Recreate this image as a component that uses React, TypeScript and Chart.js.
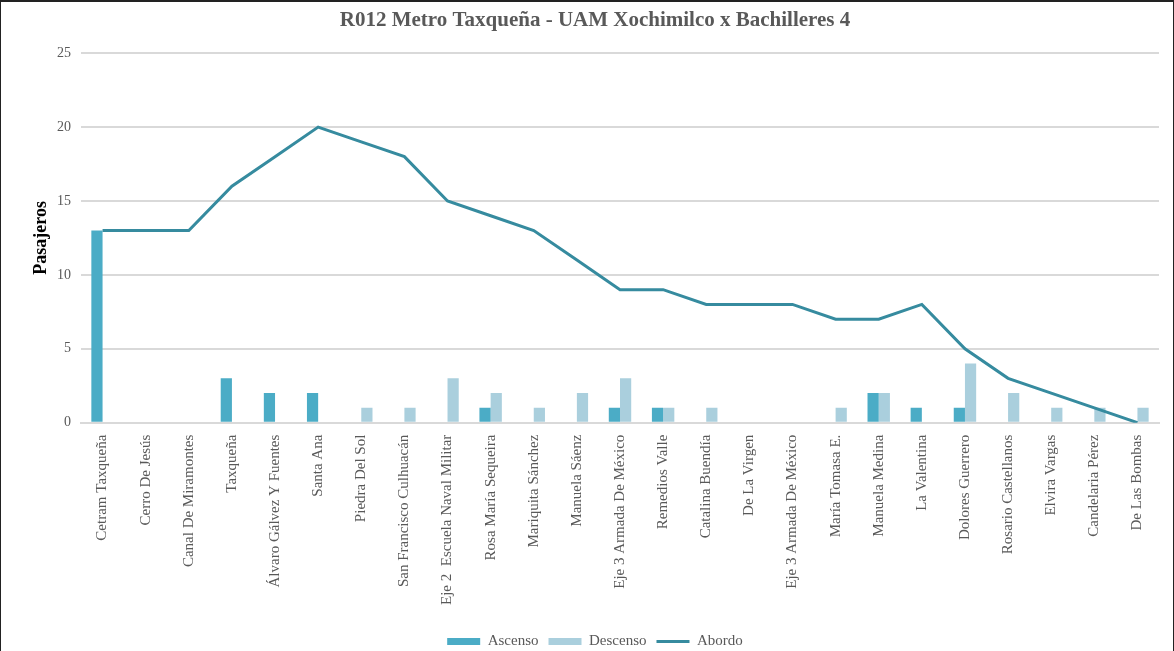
import React, { useEffect, useRef } from "react";
import { Chart, registerables } from "chart.js";

Chart.register(...registerables);

const TITLE = "R012 Metro Taxqueña - UAM Xochimilco x Bachilleres 4";
const Y_LABEL = "Pasajeros";

const stops: string[] = [
  "Cetram Taxqueña",
  "Cerro De Jesús",
  "Canal De Miramontes",
  "Taxqueña",
  "Álvaro Gálvez Y Fuentes",
  "Santa Ana",
  "Piedra Del Sol",
  "San Francisco Culhuacán",
  "Eje 2  Escuela Naval Militar",
  "Rosa María Sequeira",
  "Mariquita Sánchez",
  "Manuela Sáenz",
  "Eje 3 Armada De México",
  "Remedios Valle",
  "Catalina Buendía",
  "De La Virgen",
  "Eje 3 Armada De México",
  "María Tomasa E.",
  "Manuela Medina",
  "La Valentina",
  "Dolores Guerrero",
  "Rosario Castellanos",
  "Elvira Vargas",
  "Candelaria Pérez",
  "De Las Bombas",
];

const ascenso: number[] = [13, 0, 0, 3, 2, 2, 0, 0, 0, 1, 0, 0, 1, 1, 0, 0, 0, 0, 2, 1, 1, 0, 0, 0, 0];
const descenso: number[] = [0, 0, 0, 0, 0, 0, 1, 1, 3, 2, 1, 2, 3, 1, 1, 0, 0, 1, 2, 0, 4, 2, 1, 1, 1];
const abordo: number[] = [13, 13, 13, 16, 18, 20, 19, 18, 15, 14, 13, 11, 9, 9, 8, 8, 8, 7, 7, 8, 5, 3, 2, 1, 0];

const yTicks: number[] = [0, 5, 10, 15, 20, 25];

const COLOR_ASC = "#4bacc6";
const COLOR_DESC = "#aacfdd";
const COLOR_LINE = "#368b9f";
const FONT = "'Liberation Serif', 'Times New Roman', serif";
const TEXT_GRAY = "#595959";

export default function App() {
  const ref = useRef<HTMLCanvasElement | null>(null);

  useEffect(() => {
    document.body.style.margin = "0";
    const ctx = ref.current;
    if (!ctx) return;
    const chart = new Chart(ctx, {
      type: "bar",
      data: {
        labels: stops,
        datasets: [
          {
            type: "bar",
            label: "Ascenso",
            data: ascenso,
            backgroundColor: COLOR_ASC,
            barPercentage: 1,
            categoryPercentage: 0.52,
            order: 2,
          },
          {
            type: "bar",
            label: "Descenso",
            data: descenso,
            backgroundColor: COLOR_DESC,
            barPercentage: 1,
            categoryPercentage: 0.52,
            order: 2,
          },
          {
            type: "line",
            label: "Abordo",
            data: abordo,
            borderColor: COLOR_LINE,
            backgroundColor: COLOR_LINE,
            borderWidth: 3,
            pointRadius: 0,
            tension: 0,
            order: 1,
          } as any,
        ],
      },
      options: {
        animation: false,
        responsive: true,
        maintainAspectRatio: false,
        layout: { padding: { top: 4, right: 14, bottom: -8, left: 30 } },
        plugins: {
          title: {
            display: true,
            text: TITLE,
            color: TEXT_GRAY,
            font: { family: FONT, size: 21, weight: "bold" },
            padding: { top: 2, bottom: 20 },
          },
          legend: {
            position: "bottom",
            labels: {
              color: TEXT_GRAY,
              font: { family: FONT, size: 15 },
              usePointStyle: true,
              pointStyleWidth: 33,
              boxHeight: 7,
              padding: 10,
              sort: (a: any, b: any) => a.datasetIndex - b.datasetIndex,
              generateLabels: (c: any) => {
                const items = (Chart.defaults.plugins.legend.labels as any).generateLabels(c);
                items.forEach((it: any) => {
                  if (it.datasetIndex < 2) {
                    it.pointStyle = "rect";
                    it.lineWidth = 0;
                    it.strokeStyle = it.fillStyle;
                  } else {
                    it.pointStyle = "line";
                    it.lineWidth = 3;
                    it.strokeStyle = COLOR_LINE;
                  }
                });
                return items;
              },
            },
          },
          tooltip: { enabled: false },
        },
        scales: {
          x: {
            grid: { display: false },
            border: { color: "#d9d9d9", width: 2 },
            afterFit: (axis: any) => {
              axis.height += 15;
            },
            ticks: {
              autoSkip: false,
              maxRotation: 90,
              minRotation: 90,
              color: TEXT_GRAY,
              font: { family: FONT, size: 15 },
              padding: 4,
            },
          },
          y: {
            min: 0,
            max: 25,
            afterBuildTicks: (axis: any) => {
              axis.ticks = yTicks.map((v) => ({ value: v }));
            },
            afterFit: (axis: any) => {
              axis.width = 50;
            },
            grid: { color: "#d9d9d9", lineWidth: 2, drawTicks: false },
            border: { display: false },
            ticks: {
              color: TEXT_GRAY,
              font: { family: FONT, size: 14 },
              padding: 10,
            },
            title: {
              display: true,
              text: Y_LABEL,
              color: "#000000",
              font: { family: FONT, size: 18, weight: "bold" },
              padding: { top: 0, bottom: 0 },
            },
          },
        },
      },
    });
    return () => chart.destroy();
  }, []);

  return (
    <div
      style={{
        position: "fixed",
        left: 0,
        top: 0,
        width: 1174,
        height: 651,
        boxSizing: "border-box",
        borderTop: "2px solid #222",
        borderLeft: "1px solid #222",
        borderRight: "1px solid #222",
        background: "#fff",
      }}
    >
      <canvas ref={ref} />
    </div>
  );
}
